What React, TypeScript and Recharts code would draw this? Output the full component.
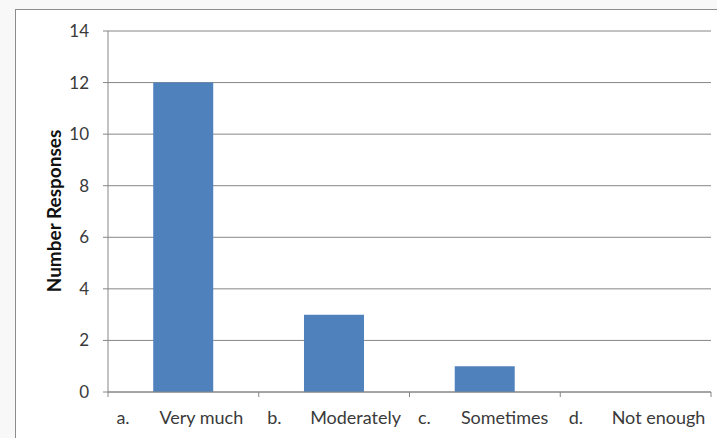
import React from "react";
import { BarChart, Bar, XAxis, YAxis, CartesianGrid, Label } from "recharts";

// survey answers, one bar per answer
const letters = ["a.", "b.", "c.", "d."];
const answers = ["Very much", "Moderately", "Sometimes", "Not enough"];
const responses = [12, 3, 1, 0];
const yTicks = [0, 2, 4, 6, 8, 10, 12, 14];

const data = answers.map((name, i) => ({
  name,
  letter: letters[i],
  responses: responses[i],
}));

const W = 717;
const H = 438;
const margin = { top: 31, right: 6, bottom: 0, left: 48 };
const Y_AXIS_W = 60;
const X_AXIS_H = 46;
const BAND = (W - margin.left - margin.right - Y_AXIS_W) / answers.length;

const FONT = "Lato, 'Open Sans', sans-serif";
const AXIS = "#868686";
const TEXT = "#3a3a3a";

function CategoryTick(props: any) {
  const { x, y, payload } = props;
  const i = answers.indexOf(payload.value);
  const left = x - BAND / 2;
  return (
    <g>
      <line x1={left} x2={left} y1={y} y2={y + 5} stroke={AXIS} />
      {i === answers.length - 1 && (
        <line x1={x + BAND / 2} x2={x + BAND / 2} y1={y} y2={y + 5} stroke={AXIS} />
      )}
      <text x={x - 67} y={y + 32} fontFamily={FONT} fontSize={18} fill={TEXT}>
        {letters[i]}
      </text>
      <text x={x - 24} y={y + 32} fontFamily={FONT} fontSize={18} fill={TEXT}>
        {answers[i]}
      </text>
    </g>
  );
}

export default function App() {
  return (
    <div
      style={{
        position: "absolute",
        left: 0,
        top: 0,
        width: W,
        height: H,
        overflow: "hidden",
        background: "#f8f8f8",
      }}
    >
      <div
        style={{
          position: "absolute",
          left: 15,
          top: 9,
          width: W,
          height: H,
          background: "#fff",
          borderLeft: "1px solid #8c8c8c",
          borderTop: "1px solid #8c8c8c",
        }}
      />
      <div style={{ position: "absolute", left: 0, top: 0 }}>
        <BarChart width={W} height={H} data={data} margin={margin} barCategoryGap="30%">
          <CartesianGrid vertical={false} stroke={AXIS} />
          <XAxis
            dataKey="name"
            height={X_AXIS_H}
            stroke={AXIS}
            tickLine={false}
            tickSize={0}
            tickMargin={0}
            interval={0}
            tick={<CategoryTick />}
          />
          <YAxis
            width={Y_AXIS_W}
            domain={[0, 14]}
            ticks={yTicks}
            stroke={AXIS}
            tickSize={5}
            tickMargin={14}
            tick={{ fill: TEXT, fontSize: 17, fontFamily: FONT }}
          >
            <Label
              content={() => (
                <text
                  x={53}
                  y={211}
                  transform="rotate(-90 53 211)"
                  textAnchor="middle"
                  dominantBaseline="central"
                  fontFamily={FONT}
                  fontWeight="bold"
                  fontSize={19}
                  fill="#111"
                >
                  Number Responses
                </text>
              )}
            />
          </YAxis>
          <Bar dataKey="responses" fill="#4F81BD" isAnimationActive={false} />
        </BarChart>
      </div>
    </div>
  );
}
